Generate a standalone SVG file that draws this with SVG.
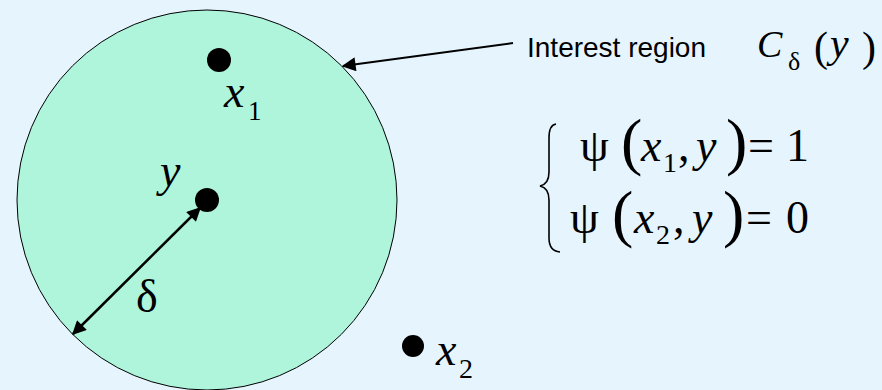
<svg xmlns="http://www.w3.org/2000/svg" width="882" height="390" viewBox="0 0 882 390">
<defs>
<marker id="ah" viewBox="0 0 10 10" refX="9" refY="5" markerWidth="20" markerHeight="14" markerUnits="userSpaceOnUse" orient="auto-start-reverse"><path d="M0,0 L10,5 L0,10 z" fill="#000"/></marker>
<style>
text{font-family:"Liberation Serif","Times New Roman","DejaVu Serif",serif;fill:#000}
text.i{font-style:italic}
text.sans{font-family:"Liberation Sans",Arial,sans-serif}
</style>
</defs>
<rect width="882" height="390" fill="#E6F4FE"/>
<g id="region"><circle cx="207" cy="200" r="190" fill="#AEF5DC" stroke="#000" stroke-width="1"/></g>
<g id="x1"><circle cx="219" cy="60" r="12"/><text class="i" x="224" y="107" font-size="46">x</text><text x="248" y="120" font-size="27">1</text></g>
<g id="y"><circle cx="207" cy="200" r="12"/><text class="i" x="160" y="186" font-size="46">y</text></g>
<g id="x2"><circle cx="413" cy="346" r="11"/><text class="i" x="436" y="365" font-size="46">x</text><text x="459" y="378" font-size="28">2</text></g>
<text x="136" y="312" font-size="46">δ</text>
<g id="label">
<text class="sans" x="527" y="57" font-size="28">Interest region</text>
<text class="i" x="757" y="57" font-size="38">C</text>
<text x="788" y="70" font-size="26">δ</text>
<text x="814" y="61" font-size="42">(</text>
<text class="i" x="830" y="57" font-size="42">y</text>
<text x="862" y="61" font-size="42">)</text>
</g>
<g id="equations">
<path d="M556,124 Q549,125 549,138 L549,172 Q549,184 540,186 Q549,188 549,200 L549,238 Q549,251 560,252" fill="none" stroke="#000" stroke-width="1.6"/>
<text x="580" y="161" font-size="46">ψ</text>
<text x="621" y="163" font-size="64">(</text>
<text class="i" x="641" y="161" font-size="46">x</text>
<text x="663" y="172" font-size="28">1</text>
<text x="678" y="161" font-size="46">,</text>
<text class="i" x="696" y="161" font-size="46">y</text>
<text x="726" y="163" font-size="64">)</text>
<text x="748" y="161" font-size="46">=</text>
<text x="786" y="161" font-size="46">1</text>
<text x="570" y="233" font-size="46">ψ</text>
<text x="612" y="235" font-size="64">(</text>
<text class="i" x="634" y="233" font-size="46">x</text>
<text x="656" y="244" font-size="28">2</text>
<text x="673" y="233" font-size="46">,</text>
<text class="i" x="692" y="233" font-size="46">y</text>
<text x="723" y="235" font-size="64">)</text>
<text x="746" y="233" font-size="46">=</text>
<text x="786" y="233" font-size="46">0</text>
</g>
<g id="connectors">
<line x1="73" y1="334" x2="200" y2="208" stroke="#000" stroke-width="2.5" marker-start="url(#ah)" marker-end="url(#ah)"/>
<line x1="513" y1="43" x2="343" y2="66" stroke="#000" stroke-width="2" marker-end="url(#ah)"/>
</g>
</svg>
